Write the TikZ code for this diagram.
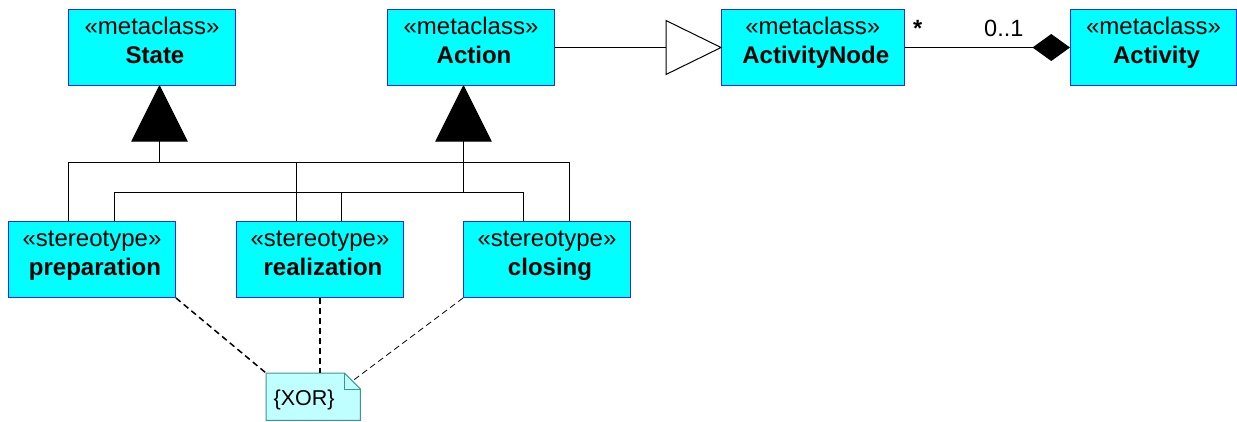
\documentclass[tikz,border=0pt]{standalone}
\usepackage{fontspec}
\setmainfont{Liberation Sans}
\definecolor{boxfill}{RGB}{0,255,255}
\definecolor{boxline}{RGB}{40,40,255}
\definecolor{notefill}{RGB}{192,255,255}
\definecolor{noteline}{RGB}{60,150,150}
\newcommand{\boxtext}[3]{\begin{minipage}[c][76pt][t]{#1pt}\centering\fontsize{24pt}{28.5pt}\selectfont\rule{0pt}{25pt}#2\\\hspace*{6pt}\textbf{#3}\end{minipage}}
\pgfdeclarelayer{bg}
\pgfsetlayers{bg,main}
\tikzset{
  cls/.style={draw=boxline, fill=boxfill, line width=1pt, inner sep=0pt, anchor=north west},
  gen/.style={draw=black, line width=1pt},
  tri/.style={draw=black, fill=black, line width=1pt, line join=miter},
  hollow/.style={draw=black, fill=white, line width=1pt},
  mult/.style={anchor=base west, inner sep=0pt, font=\fontsize{23.5pt}{28pt}\selectfont},
  notebox/.style={anchor=north west, inner sep=0pt, minimum width=94pt, minimum height=47pt, text height=21.5pt, text depth=4.5pt, font=\fontsize{21.5pt}{26pt}\selectfont},
  noteshape/.style={draw=noteline, fill=notefill, line width=1pt},
  anchorline/.style={draw=black, line width=1.5pt, dash pattern=on 6pt off 4pt},
  thinanchor/.style={draw=black, line width=0.8pt, dash pattern=on 6pt off 4pt}
}
\begin{document}
\begin{tikzpicture}[x=1pt, y=-1pt]
\useasboundingbox (0,0) rectangle (1237,421);

% classes
\node[cls] (state) at (68,9) {\boxtext{167}{«metaclass»}{State}};
\node[cls] (action) at (387,9) {\boxtext{167}{«metaclass»}{Action}};
\node[cls] (anode) at (721,9) {\boxtext{182.5}{«metaclass»}{ActivityNode}};
\node[cls] (activity) at (1070,9) {\boxtext{166}{«metaclass»}{Activity}};
\node[cls] (prep) at (8,221) {\boxtext{167}{«stereotype»}{preparation}};
\node[cls] (real) at (236,221) {\boxtext{167}{«stereotype»}{realization}};
\node[cls] (clos) at (463,221) {\boxtext{167}{«stereotype»}{closing}};

% generalization to State
\coordinate (stTip) at ([xshift=7.5pt]state.south);
\coordinate (stBase) at ([yshift=-55pt]stTip);
\coordinate (stJ) at ([yshift=-76pt]stTip);
\draw[gen] ([xshift=60.5pt]prep.north west) |- (stJ);
\draw[gen] ([xshift=60.5pt]real.north west) |- (stJ);
\draw[gen] ([xshift=106pt]clos.north west) |- (stJ);
\draw[gen] (stJ) -- (stBase);
\draw[tri] (stTip) -- ([xshift=-27.5pt]stBase) -- ([xshift=27.5pt]stBase) -- cycle;

% generalization to Action
\coordinate (acTip) at ([xshift=-7.5pt]action.south);
\coordinate (acBase) at ([yshift=-55pt]acTip);
\coordinate (acJ) at ([yshift=-106pt]acTip);
\draw[gen] ([xshift=106pt]prep.north west) |- (acJ);
\draw[gen] ([xshift=105pt]real.north west) |- (acJ);
\draw[gen] ([xshift=60.5pt]clos.north west) |- (acJ);
\draw[gen] (acJ) -- (acBase);
\draw[tri] (acTip) -- ([xshift=-27.5pt]acBase) -- ([xshift=27.5pt]acBase) -- cycle;

% Action -> ActivityNode
\draw[gen] (action.east) -- ([xshift=-55pt]anode.west);
\draw[hollow] (anode.west) -- ++(-55,-27) -- ++(0,54) -- cycle;

% composition ActivityNode -- Activity
\draw[gen] (anode.east) -- ([xshift=-37.5pt]activity.west);
\fill (activity.west) -- ++(-18.75,-13.5) -- ++(-18.75,13.5) -- ++(18.75,13.5) -- cycle;
\node[mult, font=\fontsize{23.5pt}{28pt}\selectfont\bfseries] (mstar) at (913,36) {*};
\node[mult] (mone) at (984,36) {0..1};

% note
\node[notebox] (xor) at (266,373) {\{XOR\}\hspace*{18pt}};
\begin{pgfonlayer}{bg}
\draw[noteshape] (xor.north west) -- ([xshift=-16pt]xor.north east) -- ([yshift=-16pt]xor.north east) -- (xor.south east) -- (xor.south west) -- cycle;
\draw[draw=noteline, line width=1pt] ([xshift=-16pt]xor.north east) |- ([yshift=-16pt]xor.north east);
\end{pgfonlayer}

% anchors
\draw[anchorline] (prep.south east) -- (xor.north west);
\draw[anchorline] (real.south) -- (real.south |- xor.north);
\draw[thinanchor] (clos.south west) -- ([xshift=-8pt,yshift=-8pt]xor.north east);
\end{tikzpicture}
\end{document}
